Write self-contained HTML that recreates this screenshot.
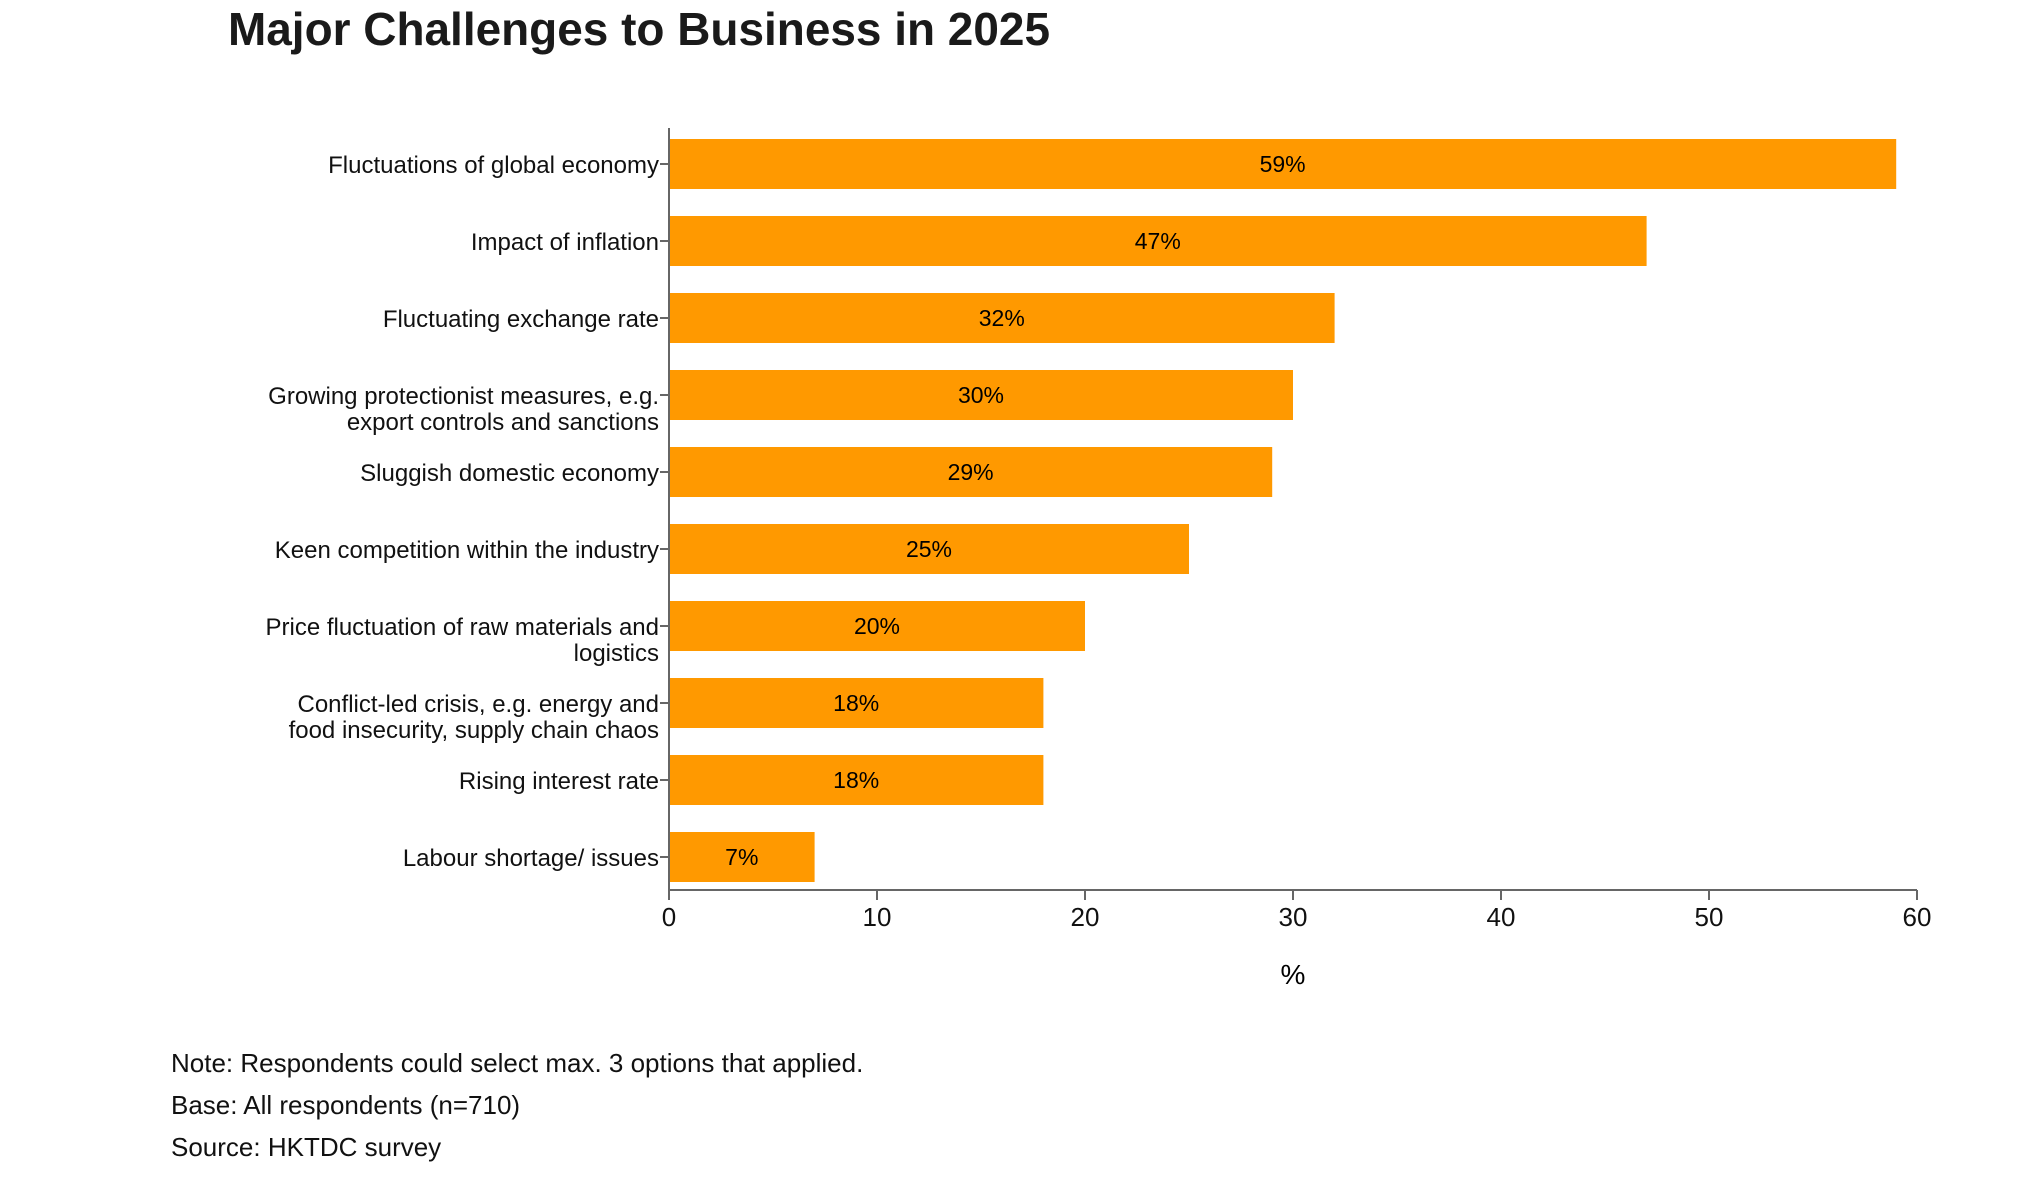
<!DOCTYPE html>
<html><head><meta charset="utf-8"><style>
html,body{margin:0;padding:0;background:#fff;}
svg{display:block;font-family:"Liberation Sans",Arial,sans-serif;}
</style></head><body>
<svg id="chart" width="2042" height="1198">
<text x="228" y="45" font-size="46" font-weight="bold" fill="#1a1a1a" textLength="822" lengthAdjust="spacingAndGlyphs">Major Challenges to Business in 2025</text>
<g id="plot"></g>
<text x="1293" y="984" font-size="28" text-anchor="middle" fill="#000">%</text>
<text x="171" y="1072" font-size="26" fill="#111">Note: Respondents could select max. 3 options that applied.</text>
<text x="171" y="1114" font-size="26" fill="#111">Base: All respondents (n=710)</text>
<text x="171" y="1156" font-size="26" fill="#111">Source: HKTDC survey</text>
</svg>
<script>
const categories = [
 ["Fluctuations of global economy"],
 ["Impact of inflation"],
 ["Fluctuating exchange rate"],
 ["Growing protectionist measures, e.g.","export controls and sanctions"],
 ["Sluggish domestic economy"],
 ["Keen competition within the industry"],
 ["Price fluctuation of raw materials and","logistics"],
 ["Conflict-led crisis, e.g. energy and","food insecurity, supply chain chaos"],
 ["Rising interest rate"],
 ["Labour shortage/ issues"]
];
const values = [59,47,32,30,29,25,20,18,18,7];
const xTicks = [0,10,20,30,40,50,60];

const NS="http://www.w3.org/2000/svg";
const g=document.getElementById('plot');
const x0=669, pxPerUnit=20.8, yFirst=164, step=77, barH=50, axisY=890;
const xs=v=>x0+v*pxPerUnit;
const yc=i=>yFirst+i*step;
function el(t,a){const e=document.createElementNS(NS,t);for(const k in a)e.setAttribute(k,a[k]);g.appendChild(e);return e;}

values.forEach((v,i)=>{
  const r=el('rect',{x:x0,y:yc(i)-barH/2,width:xs(v)-x0,height:barH,fill:'#ff9900'});
  
  
  const t=el('text',{x:(x0+xs(v))/2,y:yc(i)+8,'font-size':23,'text-anchor':'middle',fill:'#000'});
  t.textContent=v+'%';
  
  
  const tk=el('line',{x1:x0-9,x2:x0,y1:yc(i),y2:yc(i),stroke:'#666','stroke-width':2});
  
  
  categories[i].forEach((line,j)=>{
    const lt=el('text',{x:659,y:yc(i)+9+j*26,'font-size':24,'text-anchor':'end',fill:'#111'});
    lt.textContent=line;
    
    
  });
});
const ya=el('line',{x1:x0,x2:x0,y1:128,y2:axisY,stroke:'#666','stroke-width':2});


const xa=el('line',{x1:x0,x2:xs(60),y1:axisY,y2:axisY,stroke:'#666','stroke-width':2});


xTicks.forEach(v=>{
  const l=el('line',{x1:xs(v),x2:xs(v),y1:axisY,y2:axisY+10,stroke:'#666','stroke-width':2});
  
  
  const t=el('text',{x:xs(v),y:axisY+36,'font-size':26,'text-anchor':'middle',fill:'#111'});
  t.textContent=v;
  
  
});
</script>
</body></html>
